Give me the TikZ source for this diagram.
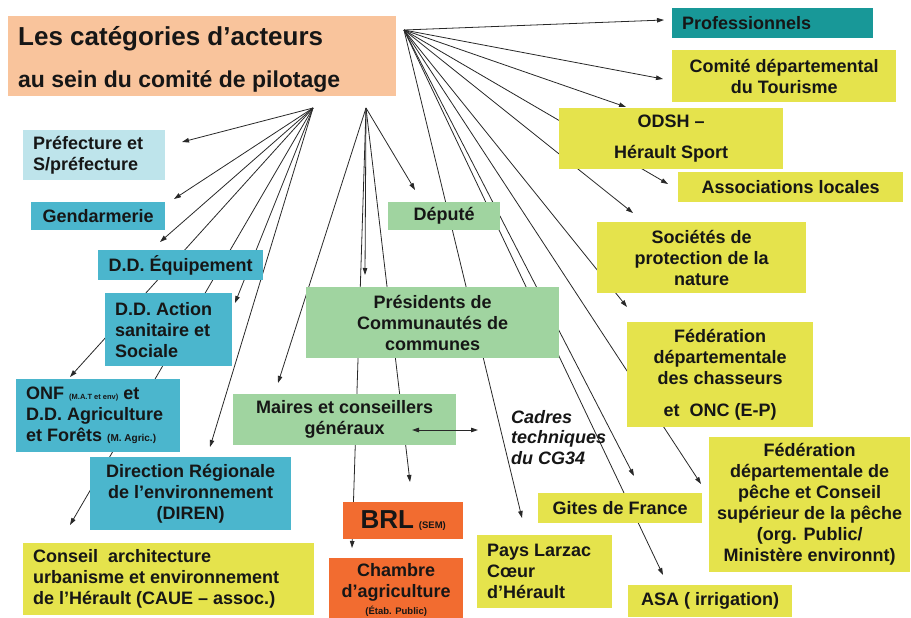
\documentclass[tikz,border=0pt]{standalone}
\usepackage{fontspec}
\setmainfont{Liberation Sans}
\usetikzlibrary{arrows.meta}
\pgfdeclarelayer{bg}
\pgfsetlayers{bg,main}
\definecolor{peach}{RGB}{249,196,156}
\definecolor{teal}{RGB}{24,152,152}
\definecolor{yel}{RGB}{229,227,76}
\definecolor{lcyan}{RGB}{190,228,235}
\definecolor{cyanb}{RGB}{75,182,205}
\definecolor{grn}{RGB}{160,212,160}
\definecolor{orng}{RGB}{242,108,48}
\definecolor{ink}{RGB}{22,22,22}
\definecolor{linec}{RGB}{40,40,40}
\begin{document}
\begin{tikzpicture}[x=1pt,y=-1pt,
  box/.style={anchor=north west, inner sep=0pt, align=center, text=ink,
    font=\bfseries\fontsize{18}{21}\selectfont},
  lbox/.style={box, align=left, inner xsep=10pt, execute at begin node={\spaceskip=0pt\xspaceskip=0pt\relax}},
  conn/.style={draw=linec, line width=0.8pt, -{Triangle[length=7pt,width=4.5pt]}},
  dconn/.style={draw=linec, line width=0.8pt, {Triangle[length=7pt,width=4.5pt]}-{Triangle[length=7pt,width=4.5pt]}}
]
\useasboundingbox (0,0) rectangle (911,618);

% hubs
\coordinate (hA) at (404,30);
\coordinate (hB) at (313,108);
\coordinate (hC) at (366,108);
% arrow tips
\coordinate (tprof) at (664,20);
\coordinate (tcdt) at (663,79);
\coordinate (todsh) at (626,107);
\coordinate (tassoc) at (668,184);
\coordinate (tsoc) at (633,213);
\coordinate (tfch) at (627,307);
\coordinate (tfpe) at (701,484);
\coordinate (tgites) at (634,476);
\coordinate (tasa) at (663,575);
\coordinate (tpays) at (522,518);
\coordinate (tpref) at (182,142);
\coordinate (tgend) at (174,199);
\coordinate (tddeq) at (160,242);
\coordinate (tddas) at (235,303);
\coordinate (tonf) at (70,377);
\coordinate (tdiren) at (210,447);
\coordinate (tcaue) at (70,525);
\coordinate (tdep) at (415,190);
\coordinate (tpres) at (365,275);
\coordinate (tmaires) at (278,383);
\coordinate (tbrl) at (410,482);
\coordinate (tchambre) at (352,548);
\coordinate (dl) at (412,430);
\coordinate (dr) at (478,430);

% boxes
\node[lbox, fill=peach, minimum width=388pt, minimum height=80pt,
  text width=368pt, font=\bfseries\fontsize{26}{42}\selectfont] (title) at (8,16)
  {\rule{0pt}{25pt}Les catégories d’acteurs\\{\fontsize{23}{42}\selectfont au sein du comité de pilotage}};

\node[lbox, fill=teal, minimum width=201pt, minimum height=30pt, text width=181pt] (prof) at (672,8) {Professionnels};
\node[box, fill=yel, minimum width=224pt, minimum height=52pt] (cdt) at (672,50) {Comité départemental\\du Tourisme};
\node[box, fill=yel, minimum width=224pt, minimum height=61pt, font=\bfseries\fontsize{18}{31}\selectfont] (odsh) at (559,108) {ODSH –\\Hérault Sport};
\node[box, fill=yel, minimum width=225pt, minimum height=30pt] (assoc) at (678,172) {Associations locales};
\node[box, fill=yel, minimum width=209pt, minimum height=71pt] (soc) at (597,222) {Sociétés de\\protection de la\\nature};
\node[box, fill=yel, minimum width=186pt, minimum height=105pt] (fch) at (627,322) {Fédération\\départementale\\des chasseurs\\[11pt]et\ \ ONC (E-P)};
\node[box, fill=yel, minimum width=201pt, minimum height=135pt] (fpe) at (709,437) {Fédération\\départementale de\\pêche et Conseil\\supérieur de la pêche\\(org. Public/\\Ministère environnt)};
\node[box, fill=yel, minimum width=164pt, minimum height=30pt] (gites) at (538,493) {Gites de France};
\node[lbox, fill=yel, minimum width=135pt, minimum height=73pt, text width=115pt] (pays) at (477,535) {Pays Larzac\\Cœur\\d’Hérault};
\node[box, fill=yel, minimum width=164pt, minimum height=32pt] (asa) at (628,585) {ASA ( irrigation)};
\node[anchor=north west, inner sep=0pt, align=left, text=ink, font=\bfseries\itshape\fontsize{18}{20.5}\selectfont,
  execute at begin node={\spaceskip=0pt\relax}] (cadres) at (511,410) {Cadres\\techniques\\du CG34};

\node[lbox, fill=lcyan, minimum width=142pt, minimum height=50pt, text width=122pt] (pref) at (23,130) {Préfecture et\\S/préfecture};
\node[box, fill=cyanb, minimum width=134pt, minimum height=28pt] (gend) at (31,202) {Gendarmerie};
\node[box, fill=cyanb, minimum width=165pt, minimum height=30pt] (ddeq) at (98,250) {D.D. Équipement};
\node[lbox, fill=cyanb, minimum width=127pt, minimum height=73pt, text width=107pt] (ddas) at (105,293) {D.D. Action\\sanitaire et\\Sociale};
\node[lbox, fill=cyanb, minimum width=164pt, minimum height=73pt, text width=144pt] (onf) at (16,379)
  {ONF {\fontsize{7.5}{8}\selectfont (M.A.T et env)} et\\D.D. Agriculture\\et Forêts {\fontsize{10}{10}\selectfont (M. Agric.)}};
\node[box, fill=cyanb, minimum width=201pt, minimum height=73pt] (diren) at (90,457) {Direction Régionale\\de l’environnement\\(DIREN)};
\node[lbox, fill=yel, minimum width=291pt, minimum height=72pt, text width=271pt] (caue) at (23,543)
  {Conseil\ \ architecture\\urbanisme et environnement\\de l’Hérault (CAUE – assoc.)};

\node[box, fill=grn, minimum width=112pt, minimum height=28pt] (dep) at (388,202) {Député};
\node[box, fill=grn, minimum width=253pt, minimum height=71pt] (pres) at (306,287) {Présidents de\\Communautés de\\communes};
\node[box, fill=grn, minimum width=223pt, minimum height=51pt] (maires) at (233,394) {Maires et conseillers\\généraux};

\node[box, fill=orng, minimum width=120pt, minimum height=37pt] (brl) at (343,502)
  {{\fontsize{26}{26}\selectfont BRL} {\fontsize{9.5}{10}\selectfont (SEM)}};
\node[box, fill=orng, minimum width=134pt, minimum height=64pt] (chambre) at (329,558)
  {Chambre\\d’agriculture\\[-4pt]{\fontsize{9.5}{10}\selectfont (Étab. Public)}};

% connectors behind boxes
\begin{pgfonlayer}{bg}
\foreach \t in {tprof,tcdt,todsh,tassoc,tsoc,tfch,tfpe,tgites,tasa,tpays}
  \draw[conn] (hA) -- (\t);
\foreach \t in {tpref,tgend,tddeq,tddas,tonf,tdiren,tcaue}
  \draw[conn] (hB) -- (\t);
\foreach \t in {tdep,tpres,tmaires,tbrl,tchambre}
  \draw[conn] (hC) -- (\t);
\end{pgfonlayer}
\draw[dconn] (dl) -- (dr);
\end{tikzpicture}
\end{document}
